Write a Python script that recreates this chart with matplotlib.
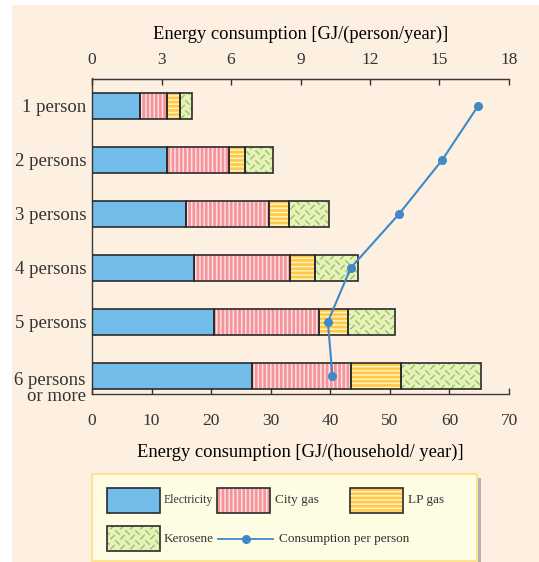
import numpy as np
import matplotlib
matplotlib.use('Agg')
import matplotlib.pyplot as plt
import matplotlib.hatch as mhatch
from matplotlib.path import Path
from matplotlib.patches import Rectangle
from matplotlib.lines import Line2D

plt.rcParams['font.family'] = ['Liberation Serif', 'DejaVu Serif']
plt.rcParams['text.color'] = '#333333'
plt.rcParams['xtick.color'] = '#333333'
plt.rcParams['ytick.color'] = '#333333'

# Data (GJ per household per year, stacked)
groups = ['1 person', '2 persons', '3 persons', '4 persons', '5 persons', '6 persons\nor more']
electricity = [8.1, 12.6, 15.8, 17.1, 20.5, 26.9]
city_gas = [4.5, 10.4, 13.9, 16.2, 17.6, 16.6]
lp_gas = [2.15, 2.6, 3.4, 4.2, 4.8, 8.3]
kerosene = [2.05, 4.7, 6.7, 7.2, 8.0, 13.5]
# GJ per person per year (top axis)
per_person = [16.67, 15.12, 13.26, 11.17, 10.18, 10.38]

bottom_ticks = [0, 10, 20, 30, 40, 50, 60, 70]
top_ticks = [0, 3, 6, 9, 12, 15, 18]


# small dash "weave" texture used for kerosene (takes the place of the '*' hatch)
class DashWeave(mhatch.HatchPatternBase):
    def __init__(self, hatch, density):
        self.num_cells = 10 * hatch.count('*')
        self.num_vertices = 4 * self.num_cells ** 2

    def set_vertices_and_codes(self, vertices, codes):
        n = self.num_cells
        s = 1.0 / n
        k = 0
        for i in range(n):
            for j in range(n):
                x0, y0 = i * s, j * s
                vertices[k] = (x0 + 0.08 * s, y0 + 0.12 * s)
                vertices[k + 1] = (x0 + 0.42 * s, y0 + 0.46 * s)
                vertices[k + 2] = (x0 + 0.58 * s, y0 + 0.92 * s)
                vertices[k + 3] = (x0 + 0.92 * s, y0 + 0.58 * s)
                codes[k:k + 4] = [Path.MOVETO, Path.LINETO, Path.MOVETO, Path.LINETO]
                k += 4


mhatch._hatch_types = [t for t in mhatch._hatch_types if t is not mhatch.Stars] + [DashWeave]

edge = '#2b2b2b'
styles = [
    dict(label='Electricity', face='#71BCE8', hatch=None, hcolor=None, hlw=1.0),
    dict(label='City gas', face='#FFE0DE', hatch='||||', hcolor='#F4939A', hlw=1.9),
    dict(label='LP gas', face='#FFF2C4', hatch='----', hcolor='#FFC845', hlw=1.9),
    dict(label='Kerosene', face='#E6F1BE', hatch='*', hcolor='#96C855', hlw=1.0),
]
series = [electricity, city_gas, lp_gas, kerosene]

fig = plt.figure(figsize=(5.39, 5.62), dpi=100)
fig.patch.set_facecolor('white')
fig.add_artist(Rectangle((12 / 539, 0), 1, 1 - 5 / 562, transform=fig.transFigure,
                         facecolor='#FDF0E1', edgecolor='none', zorder=-10))

ax = fig.add_axes([92 / 539, 1 - 394 / 562, (509 - 92) / 539, (394 - 78.5) / 562])
ax.set_facecolor('none')

y = np.arange(len(groups))
left = np.zeros(len(groups))
for vals, st in zip(series, styles):
    vals = np.array(vals)
    plt.rcParams['hatch.linewidth'] = st['hlw']
    if st['hatch']:
        ax.barh(y, vals, left=left, height=0.48, color=st['face'], hatch=st['hatch'],
                edgecolor=st['hcolor'], linewidth=0, zorder=2)
    else:
        ax.barh(y, vals, left=left, height=0.48, color=st['face'], linewidth=0, zorder=2)
    ax.barh(y, vals, left=left, height=0.48, fill=False, edgecolor=edge, linewidth=1.2, zorder=3)
    left += vals

ax.set_xlim(0, 70)
ax.set_ylim(5.335, -0.505)
ax.set_xticks(bottom_ticks)
ax.set_yticks(y)
# two-line label of the last group hangs below its tick
ax.set_yticklabels(groups[:-1] + [''], fontsize=13.5)
ax.annotate(groups[-1], xy=(0, y[-1]), xycoords=ax.get_yaxis_transform(),
            xytext=(-4.5, 3), textcoords='offset points', ha='right', va='top',
            multialignment='right', linespacing=0.95, fontsize=13.5, color='#333333')
ax.tick_params(axis='y', length=0, pad=4)
ax.tick_params(axis='x', direction='in', length=4, width=1, labelsize=12.5, pad=14)
ax.set_xlabel('Energy consumption [GJ/(household/ year)]', fontsize=13.3, labelpad=10.5)
for side in ['left', 'bottom', 'top']:
    ax.spines[side].set_color('#3a3a3a')
    ax.spines[side].set_linewidth(1.0)
ax.spines['right'].set_visible(False)

# per-person line on the top axis
ax2 = ax.twiny()
ax2.set_xlim(0, 18)
ax2.set_xticks(top_ticks)
ax2.plot(per_person, y, color='#3D89C9', linewidth=1.5, marker='o', markersize=5.5, zorder=5)
ax2.tick_params(axis='x', direction='in', length=4, width=1, labelsize=12.5, pad=7.5)
ax2.set_xlabel('Energy consumption [GJ/(person/year)]', fontsize=13.3, labelpad=9.5)
ax2.spines['top'].set_color('#3a3a3a')
for side in ['left', 'bottom', 'right']:
    ax2.spines[side].set_visible(False)

# legend drawn in figure pixel coordinates
lax = fig.add_axes([0, 0, 1, 1], zorder=10)
lax.set_xlim(0, 539)
lax.set_ylim(562, 0)
lax.axis('off')
lax.add_patch(Rectangle((92, 478), 389, 84, facecolor='#B3B3B3', edgecolor='none'))
lax.add_patch(Rectangle((92, 474), 385, 87, facecolor='#FFFCE4', edgecolor='#FFE391', linewidth=1.5))

swatches = [(107, 488), (217, 488), (350, 488), (107, 526)]
text_x = [164, 275, 408, 164]
for (sx, sy), tx, st in zip(swatches, text_x, styles):
    plt.rcParams['hatch.linewidth'] = st['hlw']
    if st['hatch']:
        lax.add_patch(Rectangle((sx, sy), 53, 24.5, facecolor=st['face'], hatch=st['hatch'],
                                edgecolor=st['hcolor'], linewidth=0))
    else:
        lax.add_patch(Rectangle((sx, sy), 53, 24.5, facecolor=st['face'], linewidth=0))
    lax.add_patch(Rectangle((sx, sy), 53, 24.5, fill=False, edgecolor=edge, linewidth=1.2))
    lax.text(tx, sy + 12.5, st['label'], fontsize=8.5 if st['label'] == 'Electricity' else 9.5,
             va='center', ha='left')

lax.add_line(Line2D([218, 273], [539, 539], color='#3D89C9', linewidth=1.3))
lax.add_line(Line2D([245.5], [539], color='#3D89C9', marker='o', markersize=5.5))
lax.text(279, 539, 'Consumption per person', fontsize=9.5, va='center', ha='left')

fig.savefig('out.png', dpi=100)
